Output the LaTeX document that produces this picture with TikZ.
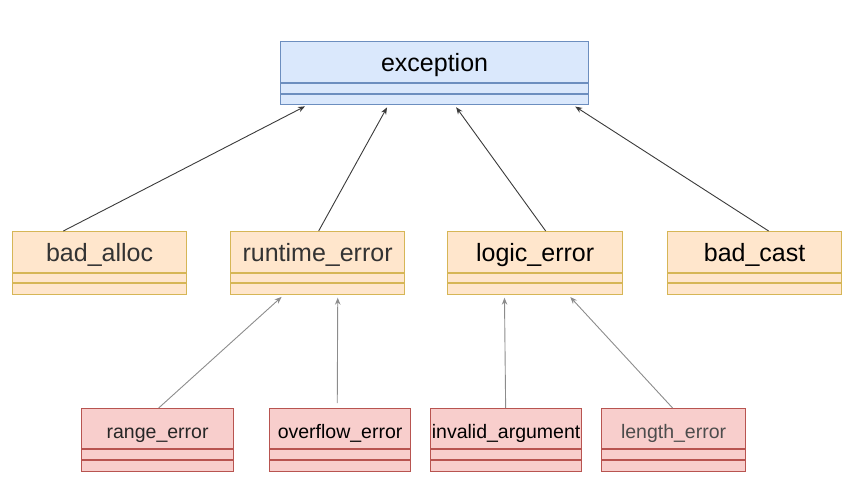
\documentclass[tikz,border=0pt]{standalone}
\usepackage{fontspec}
\setmainfont{Liberation Sans}
\usetikzlibrary{arrows.meta,calc}

\definecolor{bluefill}{HTML}{DAE8FC}
\definecolor{bluedraw}{HTML}{6C8EBF}
\definecolor{orangefill}{HTML}{FFE6CC}
\definecolor{orangedraw}{HTML}{D6B656}
\definecolor{redfill}{HTML}{F8CECC}
\definecolor{reddraw}{HTML}{B85450}
\definecolor{darklink}{HTML}{3A3A3A}
\definecolor{lightlink}{HTML}{8C8C8C}

\tikzset{
  baseclass/.style={fill=bluefill, draw=bluedraw},
  midclass/.style={fill=orangefill, draw=orangedraw},
  leafclass/.style={fill=redfill, draw=reddraw},
  classbox/.style={rectangle, line width=1.2pt, inner sep=0pt, anchor=north west},
  bigname/.style={font=\fontsize{25}{29}\selectfont, inner sep=0pt, anchor=base},
  smallname/.style={font=\fontsize{19.5}{23}\selectfont, inner sep=0pt, anchor=base},
  inherit/.style={line width=0.9pt, -{Stealth[length=7pt,width=5.5pt]}, shorten >=2.5pt},
  toplink/.style={inherit, draw=darklink},
  lowlink/.style={inherit, draw=lightlink},
}

% #1 node name, #2 box style, #3 left, #4 top, #5 width, #6 height,
% #7 header height, #8 first compartment height, #9 label node options,
% followed by the label text as a tenth argument
\newcommand{\umlclass}[9]{%
  \node[classbox, #2, minimum width=#5pt, minimum height=#6pt] (#1) at (#3,#4) {};
  \draw[#2, fill=none, line width=1.2pt]
    ($(#1.north west)+(0,#7)$) -- ($(#1.north east)+(0,#7)$)
    ($(#1.north west)+(0,#7+#8)$) -- ($(#1.north east)+(0,#7+#8)$);
  \umlclasslabel{#1}{#7}{#9}%
}
\newcommand{\umlclasslabel}[4]{%
  \node[#3] (#1-name) at ($(#1.north)+(0,#2/2+9.6)$) {#4};
}

\begin{document}
\begin{tikzpicture}[x=1pt, y=-1pt]
  \useasboundingbox (0,0) rectangle (866,478);

  % root of the hierarchy
  \umlclass{exc}{baseclass}{280}{41}{308}{63}{42}{11}{bigname}{exception}

  % direct subclasses
  \umlclass{ba}{midclass}{12}{231}{174}{63}{42}{10}{bigname, text=black!80}{bad\_alloc}
  \umlclass{rt}{midclass}{230}{231}{174}{63}{42}{10}{bigname, text=black!80}{runtime\_error}
  \umlclass{le}{midclass}{447}{231}{175}{63}{42}{10}{bigname}{logic\_error}
  \umlclass{bc}{midclass}{667}{231}{174}{63}{42}{10}{bigname}{bad\_cast}

  % leaf classes
  \umlclass{re}{leafclass}{81}{408}{152}{63}{41}{11}{smallname, text=black!85}{range\_error}
  \umlclass{oe}{leafclass}{269}{408}{141}{63}{41}{11}{smallname}{overflow\_error}
  \umlclass{ia}{leafclass}{430}{408}{151}{63}{41}{11}{smallname}{invalid\_argument}
  \umlclass{lh}{leafclass}{601}{408}{144}{63}{41}{11}{smallname, text=black!70}{length\_error}

  % inheritance links to exception
  \draw[toplink] ($(ba.north west)!0.293!(ba.north east)$) -- ($(exc.south west)!0.088!(exc.south east)$);
  \draw[toplink] ($(rt.north west)!0.506!(rt.north east)$) -- ($(exc.south west)!0.350!(exc.south east)$);
  \draw[toplink] ($(le.north west)!0.560!(le.north east)$) -- ($(exc.south west)!0.565!(exc.south east)$);
  \draw[toplink] ($(bc.north west)!0.580!(bc.north east)$) -- ($(exc.south west)!0.948!(exc.south east)$);

  % inheritance links to runtime_error and logic_error
  \draw[lowlink] ($(re.north west)!0.507!(re.north east)$) -- ($(rt.south west)!0.305!(rt.south east)$);
  \draw[lowlink] ($(oe.north west)!0.480!(oe.north east)+(0,-5)$) -- ($(rt.south west)!0.615!(rt.south east)$);
  \draw[lowlink] ($(ia.north west)!0.497!(ia.north east)$) -- ($(le.south west)!0.326!(le.south east)$);
  \draw[lowlink] ($(lh.north west)!0.493!(lh.north east)$) -- ($(le.south west)!0.690!(le.south east)$);
\end{tikzpicture}
\end{document}
